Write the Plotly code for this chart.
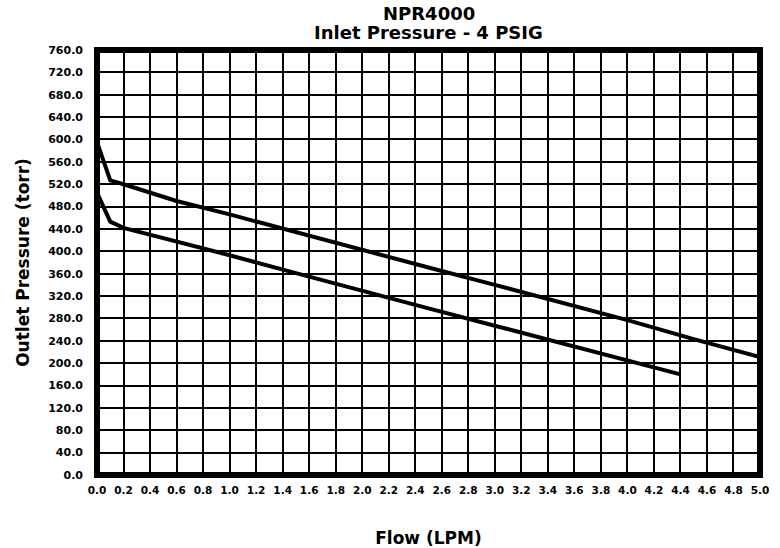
import plotly.graph_objects as go

# Flow (LPM) and outlet pressure (torr)
flow_upper = [0.0, 0.1, 0.2, 0.6, 1.0, 1.5, 2.0, 2.5, 3.0, 3.5, 4.0, 4.5, 5.0]
press_upper = [595, 527, 520, 490, 466, 434, 402, 371, 340, 308, 277, 243, 211]

flow_lower = [0.0, 0.1, 0.2, 0.6, 1.0, 1.5, 2.0, 2.5, 3.0, 3.5, 4.0, 4.4]
press_lower = [505, 453, 442, 418, 393, 361, 329, 298, 267, 236, 205, 180]

x_ticks = [round(i * 0.2, 1) for i in range(26)]
y_ticks = [i * 40 for i in range(20)]

title_line1 = "NPR4000"
title_line2 = "Inlet Pressure - 4 PSIG"
x_title = "Flow (LPM)"
y_title = "Outlet Pressure (torr)"

FONT = "DejaVu Sans"

fig = go.Figure()
fig.add_trace(go.Scatter(x=flow_upper, y=press_upper, mode="lines",
                         line=dict(color="black", width=4), showlegend=False))
fig.add_trace(go.Scatter(x=flow_lower, y=press_lower, mode="lines",
                         line=dict(color="black", width=4), showlegend=False))

fig.update_layout(
    width=780, height=548,
    margin=dict(l=97, r=20, t=50, b=73),
    paper_bgcolor="white", plot_bgcolor="white",
    font=dict(family=FONT, color="black", size=11, weight="bold"),
    xaxis=dict(
        range=[0, 5], tickvals=x_ticks, ticktext=[f"{v:.1f}" for v in x_ticks],
        showgrid=True, gridcolor="black", gridwidth=1.5,
        zeroline=False, showline=False, ticks="", ticklabelstandoff=7,
        tickfont=dict(family=FONT, size=10.5, weight="bold"),
        automargin=False,
        title=dict(text=x_title, standoff=45,
                   font=dict(family=FONT, size=17, weight="bold")),
    ),
    yaxis=dict(
        range=[0, 760], tickvals=y_ticks, ticktext=[f"{v:.1f}" for v in y_ticks],
        showgrid=True, gridcolor="black", gridwidth=1.5,
        zeroline=False, showline=False, ticks="", ticklabelstandoff=13,
        tickfont=dict(family=FONT, size=11, weight="bold"),
        automargin=False,
        title=dict(text=y_title, standoff=14,
                   font=dict(family=FONT, size=17, weight="bold")),
    ),
    shapes=[dict(type="rect", xref="paper", yref="paper", x0=0, x1=1, y0=0, y1=1,
                 line=dict(color="black", width=6), layer="above")],
    annotations=[
        dict(text=title_line1, xref="paper", yref="paper", x=0.5, y=1,
             yanchor="bottom", yshift=24, showarrow=False,
             font=dict(family=FONT, size=18, weight="bold")),
        dict(text=title_line2, xref="paper", yref="paper", x=0.5, y=1,
             yanchor="bottom", yshift=5, showarrow=False,
             font=dict(family=FONT, size=18, weight="bold")),
    ],
)

fig.write_html("out.html",
               config={"displayModeBar": False},
               post_script="document.body.style.margin='0';document.body.style.overflow='hidden';")
